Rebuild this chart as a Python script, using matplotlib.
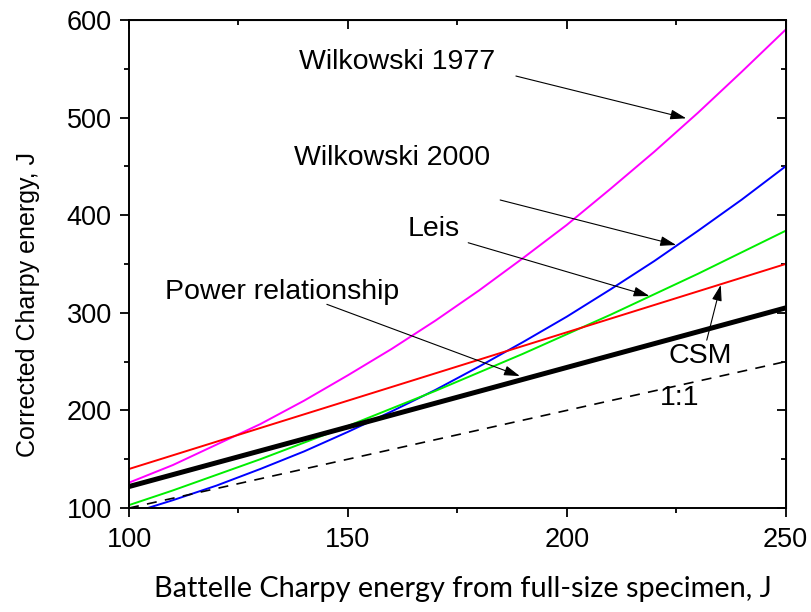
import numpy as np
import matplotlib
matplotlib.use('Agg')
import matplotlib.pyplot as plt

# full-size Charpy energy, J
x = [100, 110, 120, 130, 140, 150, 160, 170, 180, 190, 200, 210, 220, 230, 240, 250]
#corrected values
wilkowski_1977 = [126, 144, 165, 186, 210, 236, 263, 292, 323, 356, 390, 427, 465, 505, 547, 590]
wilkowski_2000 = [94, 108, 123, 140, 158, 178, 199, 221, 245, 270, 296, 324, 353, 384, 416, 450]
leis = [103, 118, 134, 150, 167, 184, 202, 220, 239, 258, 278, 298, 319, 340, 362, 384]
csm_x = [100, 250]
csm = [140, 350]
power_x = [100, 150, 200, 250]
power = [122, 183, 244, 305]
one_x = [100, 250]
one_y = [100, 250]

plt.rcParams['font.family'] = ['Liberation Sans', 'DejaVu Sans']

fig = plt.figure(figsize=(8.12, 6.12), dpi=100)
ax = fig.add_axes([0.1589, 0.1699, 0.8085, 0.7974])

ax.plot(x, wilkowski_1977, color='#FF00FF', lw=1.4)
ax.plot(x, wilkowski_2000, color='#0000FF', lw=1.4)
ax.plot(x, leis, color='#00EE00', lw=1.4)
ax.plot(csm_x, csm, color='#FF0000', lw=1.4)
ax.plot(power_x, power, color='black', lw=3.6)
ax.plot(one_x, one_y, color='black', lw=1.2, ls=(0, (6, 5)))

ax.set_xlim(100, 250)
ax.set_ylim(100, 600)
ax.set_xticks([100, 150, 200, 250])
ax.set_xticks([125, 175, 225], minor=True)
ax.set_yticks([100, 200, 300, 400, 500, 600])
ax.set_yticks([150, 250, 350, 450, 550], minor=True)
ax.tick_params(which='major', direction='out', length=6.5, width=1.3, labelsize=19.5)
ax.tick_params(axis='x', which='major', pad=7)
ax.tick_params(axis='y', which='major', pad=6)
ax.tick_params(which='minor', direction='out', length=3.5, width=1.3)
for s in ax.spines.values():
    s.set_linewidth(1.4)

#inward ticks on top and right
top = ax.secondary_xaxis('top')
top.set_xticks([100, 150, 200, 250])
top.set_xticks([125, 175, 225], minor=True)
top.tick_params(which='major', direction='in', length=6.5, width=1.3, labeltop=False)
top.tick_params(which='minor', direction='in', length=3.5, width=1.3)
right = ax.secondary_yaxis('right')
right.set_yticks([100, 200, 300, 400, 500, 600])
right.set_yticks([150, 250, 350, 450, 550], minor=True)
right.tick_params(which='major', direction='in', length=6.5, width=1.3, labelright=False)
right.tick_params(which='minor', direction='in', length=3.5, width=1.3)

fig.text(0.0345, 0.502, 'Corrected Charpy energy, J', fontsize=18,
         rotation=90, ha='center', va='center')
fig.text(0.570, 0.0245, 'Battelle Charpy energy from full-size specimen, J',
         fontsize=20.8, ha='center', va='baseline', family=['Lato', 'DejaVu Sans'])

arrow = dict(arrowstyle='-|>,head_length=0.8,head_width=0.25', color='black', lw=0.8,
             mutation_scale=12, shrinkA=0, shrinkB=0)
fs = 20.5
ax.annotate('', xy=(227.3, 499.3), xytext=(188.4, 542.6), arrowprops=arrow)
ax.text(161.2, 556.5, 'Wilkowski 1977', fontsize=fs, ha='center', va='center')
ax.annotate('', xy=(225, 369.5), xytext=(184.8, 415.6), arrowprops=arrow)
ax.text(160.1, 458.6, 'Wilkowski 2000', fontsize=fs, ha='center', va='center')
ax.annotate('', xy=(218.9, 317.2), xytext=(177.5, 371.8), arrowprops=arrow)
ax.text(169.7, 385.9, 'Leis', fontsize=fs, ha='center', va='center')
ax.annotate('', xy=(189.3, 235.2), xytext=(145.2, 308.7), arrowprops=arrow)
ax.text(134.9, 321.6, 'Power relationship', fontsize=fs, ha='center', va='center')
ax.annotate('', xy=(235.2, 328.5), xytext=(232, 272), arrowprops=arrow)
ax.text(230.5, 255.7, 'CSM', fontsize=fs, ha='center', va='center')
ax.text(225.8, 212.7, '1:1', fontsize=fs, ha='center', va='center')

fig.savefig('out.png', dpi=100)
